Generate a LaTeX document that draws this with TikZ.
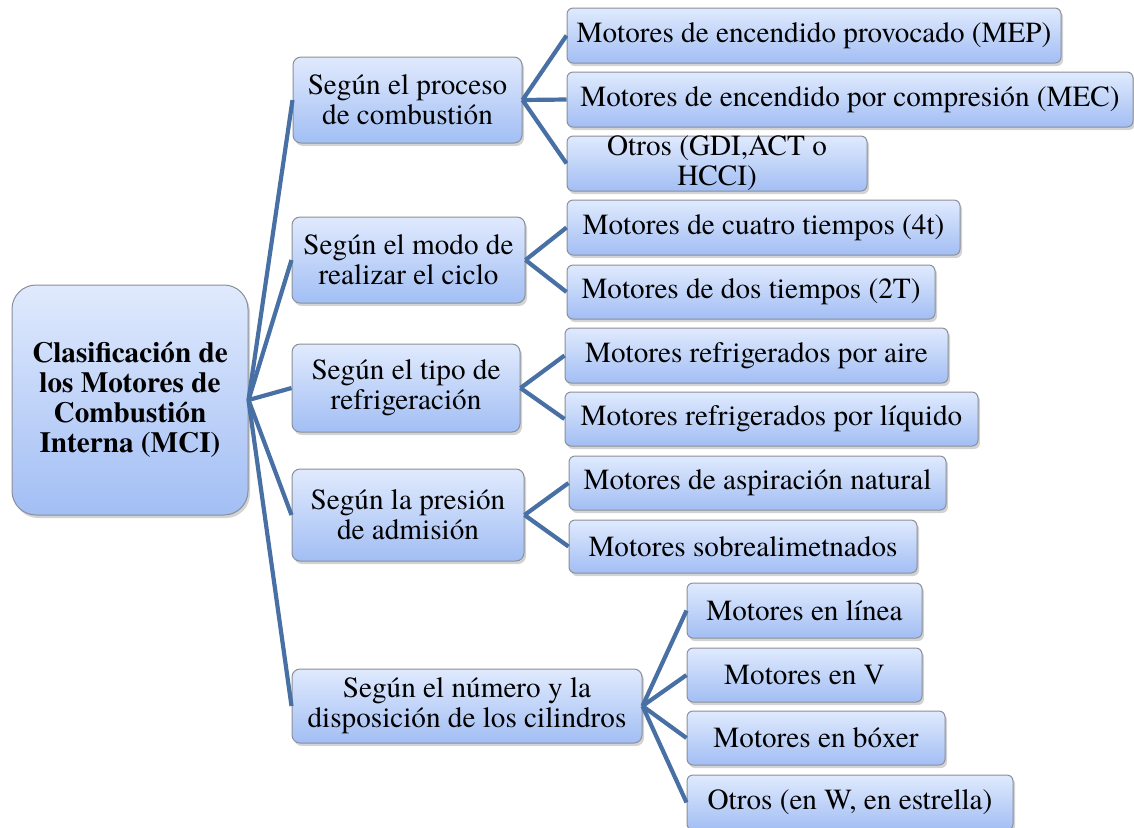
\documentclass[tikz,border=0pt]{standalone}
\usepackage{fontspec}
\setmainfont{texgyretermes}[Extension=.otf,UprightFont=*-regular,BoldFont=*-bold,ItalicFont=*-italic,BoldItalicFont=*-bolditalic]
\usetikzlibrary{shadows}
\definecolor{cajaarriba}{HTML}{E0EAFD}
\definecolor{cajaabajo}{HTML}{A2BEF4}
\definecolor{borde}{HTML}{8A8F99}
\definecolor{linea}{HTML}{4870A4}

\begin{document}
\begin{tikzpicture}[
x=0.5pt,y=-0.5pt,
font=\fontsize{14.6}{15}\selectfont,
caja/.style={draw=borde,line width=0.5pt,top color=cajaarriba,bottom color=cajaabajo,
  align=center,inner sep=0pt,rounded corners=4pt,
  drop shadow={shadow xshift=1pt,shadow yshift=-1.5pt,opacity=0.35}},
raiz/.style={caja,rounded corners=12pt,font=\fontsize{14.6}{15}\selectfont\bfseries},
hoja/.style={caja,rounded corners=3pt},
tam/.style 2 args={minimum width=#1*0.5pt,minimum height=#2*0.5pt},
rama/.style={draw=linea,line width=2.1pt}
]
\useasboundingbox (0,0) rectangle (1134,827);

% raiz
\node[raiz,tam={236}{230}] (mci) at (130,400) {Clasificación de\\los Motores de\\Combustión\\Interna (MCI)};

% criterios
\node[caja,tam={229}{86}] (s1) at (407.5,100) {Según el proceso\\de combustión};
\node[caja,tam={233}{86}] (s2) at (408.5,260) {Según el modo de\\realizar el ciclo};
\node[caja,tam={228}{88}] (s3) at (406,388) {Según el tipo de\\refrigeración};
\node[caja,tam={232}{92}] (s4) at (408,515) {Según la presión\\de admisión};
\node[caja,tam={350}{74}] (s5) at (467,706) {Según el número y la\\disposición de los cilindros};

% tipos
\node[hoja,tam={494}{55}] (h1a) at (814,35.5) {Motores de encendido provocado (MEP)};
\node[hoja,tam={566}{55}] (h1b) at (850,99.5) {Motores de encendido por compresión (MEC)};
\node[hoja,tam={300}{55}] (h1c) at (717,163.5) {Otros (GDI,ACT o\\HCCI)};

\node[hoja,tam={393}{55}] (h2a) at (763.5,227.5) {Motores de cuatro tiempos (4t)};
\node[hoja,tam={368}{54}] (h2b) at (751,292) {Motores de dos tiempos (2T)};

\node[hoja,tam={383}{55}] (h3a) at (756.5,355.5) {Motores refrigerados por aire};
\node[hoja,tam={413}{54}] (h3b) at (771.5,419) {Motores refrigerados por líquido};

\node[hoja,tam={377}{54}] (h4a) at (757.5,483) {Motores de aspiración natural};
\node[hoja,tam={348}{53}] (h4b) at (743,546.5) {Motores sobrealimetnados};

\node[hoja,tam={235}{55}] (h5a) at (804.5,610.5) {Motores en línea};
\node[hoja,tam={235}{54}] (h5b) at (804.5,675) {Motores en V};
\node[hoja,tam={258}{54}] (h5c) at (816,738) {Motores en bóxer};
\node[hoja,tam={326}{55}] (h5d) at (850,802.5) {Otros (en W, en estrella)};

% ramas
\foreach \s in {s1,s2,s3,s4,s5}
  \draw[rama] (mci.east) -- (\s.west);
\foreach \h in {h1a,h1b,h1c}
  \draw[rama] (s1.east) -- (\h.west);
\foreach \h in {h2a,h2b}
  \draw[rama] (s2.east) -- (\h.west);
\foreach \h in {h3a,h3b}
  \draw[rama] (s3.east) -- (\h.west);
\foreach \h in {h4a,h4b}
  \draw[rama] (s4.east) -- (\h.west);
\foreach \h in {h5a,h5b,h5c,h5d}
  \draw[rama] (s5.east) -- (\h.west);

\end{tikzpicture}
\end{document}
